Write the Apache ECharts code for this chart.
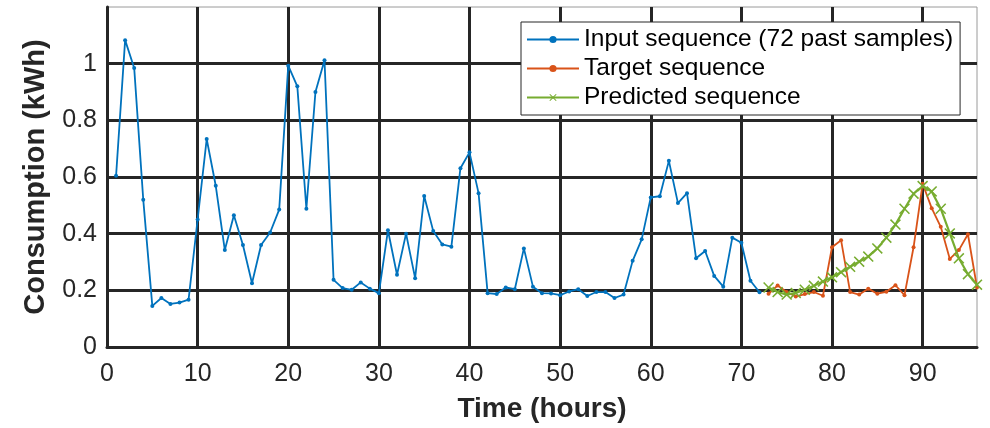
<!DOCTYPE html>
<html>
<head>
<meta charset="utf-8">
<script src="https://cdn.jsdelivr.net/npm/echarts@6/dist/echarts.min.js"></script>
<style>html,body{margin:0;padding:0;background:#fff;}#c{width:990px;height:428px;}</style>
</head>
<body>
<div id="c"></div>
<script>
// Input sequence: hours 1..72
const inputStart = 1;
const inputValues = [0.604,1.083,0.985,0.52,0.145,0.173,0.152,0.157,0.167,0.45,
  0.734,0.569,0.342,0.465,0.36,0.225,0.36,0.404,0.485,0.993,
  0.92,0.488,0.90,1.012,0.237,0.208,0.202,0.228,0.206,0.19,
  0.412,0.255,0.40,0.243,0.533,0.409,0.362,0.354,0.631,0.687,
  0.543,0.19,0.187,0.21,0.204,0.348,0.213,0.19,0.189,0.183,
  0.196,0.204,0.18,0.194,0.194,0.173,0.185,0.304,0.38,0.528,
  0.532,0.657,0.508,0.543,0.313,0.339,0.251,0.213,0.386,0.368,
  0.234,0.193];
// Target and predicted sequences: hours 73..96
const forecastStart = 73;
const targetValues = [0.188,0.217,0.194,0.178,0.187,0.194,0.181,0.352,0.377,0.194,
  0.185,0.206,0.188,0.195,0.218,0.183,0.352,0.576,0.49,0.424,
  0.311,0.342,0.398,0.21];
const predictedValues = [0.21,0.194,0.185,0.191,0.202,0.216,0.231,0.246,0.264,0.283,
  0.301,0.319,0.348,0.386,0.432,0.488,0.541,0.568,0.549,0.488,
  0.401,0.313,0.257,0.22];
const seriesNames = ['Input sequence (72 past samples)','Target sequence','Predicted sequence'];
const xTicks = [0,10,20,30,40,50,60,70,80,90];
const yTicks = [0,0.2,0.4,0.6,0.8,1];

function pairs(start, vals){ return vals.map((v,i)=>[start+i, v]); }

const font = 'Liberation Sans, Arial, sans-serif';
const gridColor = '#262626';
const crossPath = 'path://M0,1L1,0L5,4L9,0L10,1L6,5L10,9L9,10L5,6L1,10L0,9L4,5Z';

const chart = echarts.init(document.getElementById('c'), null, {renderer:'canvas'});
chart.setOption({
  animation:false,
  backgroundColor:'#fff',
  grid:{left:107, right:13, top:7, bottom:79, show:true, borderColor:'#9a9a9a', borderWidth:1, backgroundColor:'transparent'},
  xAxis:{
    type:'value', min:0, max:96, interval:10,
    name:'Time (hours)', nameLocation:'middle', nameGap:48,
    nameTextStyle:{fontFamily:font, fontWeight:'bold', fontSize:28, color:'#262626'},
    axisLine:{show:true, onZero:false, lineStyle:{color:gridColor, width:3}},
    axisTick:{show:false},
    axisLabel:{fontFamily:font, fontSize:25, color:'#262626', margin:15, showMaxLabel:false,
      formatter:v=> xTicks.indexOf(v)>=0 ? String(v) : ''},
    splitLine:{show:true, showMinLine:false, showMaxLine:false, lineStyle:{color:gridColor, width:3}}
  },
  yAxis:{
    type:'value', min:0, max:1.2, interval:0.2,
    name:'Consumption (kWh)', nameLocation:'middle', nameGap:57,
    nameTextStyle:{fontFamily:font, fontWeight:'bold', fontSize:29, color:'#262626'},
    axisLine:{show:true, onZero:false, lineStyle:{color:gridColor, width:3}},
    axisTick:{show:false},
    axisLabel:{fontFamily:font, fontSize:25, color:'#262626', margin:10, showMaxLabel:false,
      formatter:v=>{ const r=Math.round(v*10)/10; return yTicks.indexOf(r)>=0 ? String(r) : ''; }},
    splitLine:{show:true, showMinLine:false, showMaxLine:false, lineStyle:{color:gridColor, width:3}}
  },
  legend:{
    orient:'vertical', left:521, top:22,
    backgroundColor:'#fff', borderColor:'#262626', borderWidth:1,
    padding:[4,7,4,5], itemGap:2, itemWidth:52, itemHeight:9,
    textStyle:{fontFamily:font, fontSize:24.5, color:'#000', lineHeight:27},
    data:seriesNames
  },
  series:[
    {name:seriesNames[0], type:'line', data:pairs(inputStart,inputValues),
     symbol:'circle', symbolSize:4, showAllSymbol:true,
     lineStyle:{color:'#0072BD', width:1.8}, itemStyle:{color:'#0072BD'}, z:3},
    {name:seriesNames[1], type:'line', data:pairs(forecastStart,targetValues),
     symbol:'circle', symbolSize:4, showAllSymbol:true,
     lineStyle:{color:'#D95319', width:1.8}, itemStyle:{color:'#D95319'}, z:3},
    {name:seriesNames[2], type:'line', data:pairs(forecastStart,predictedValues),
     symbol:crossPath, symbolSize:11, showAllSymbol:true,
     lineStyle:{color:'#77AC30', width:2.2}, itemStyle:{color:'#77AC30'}, z:4}
  ]
});
</script>
</body>
</html>
